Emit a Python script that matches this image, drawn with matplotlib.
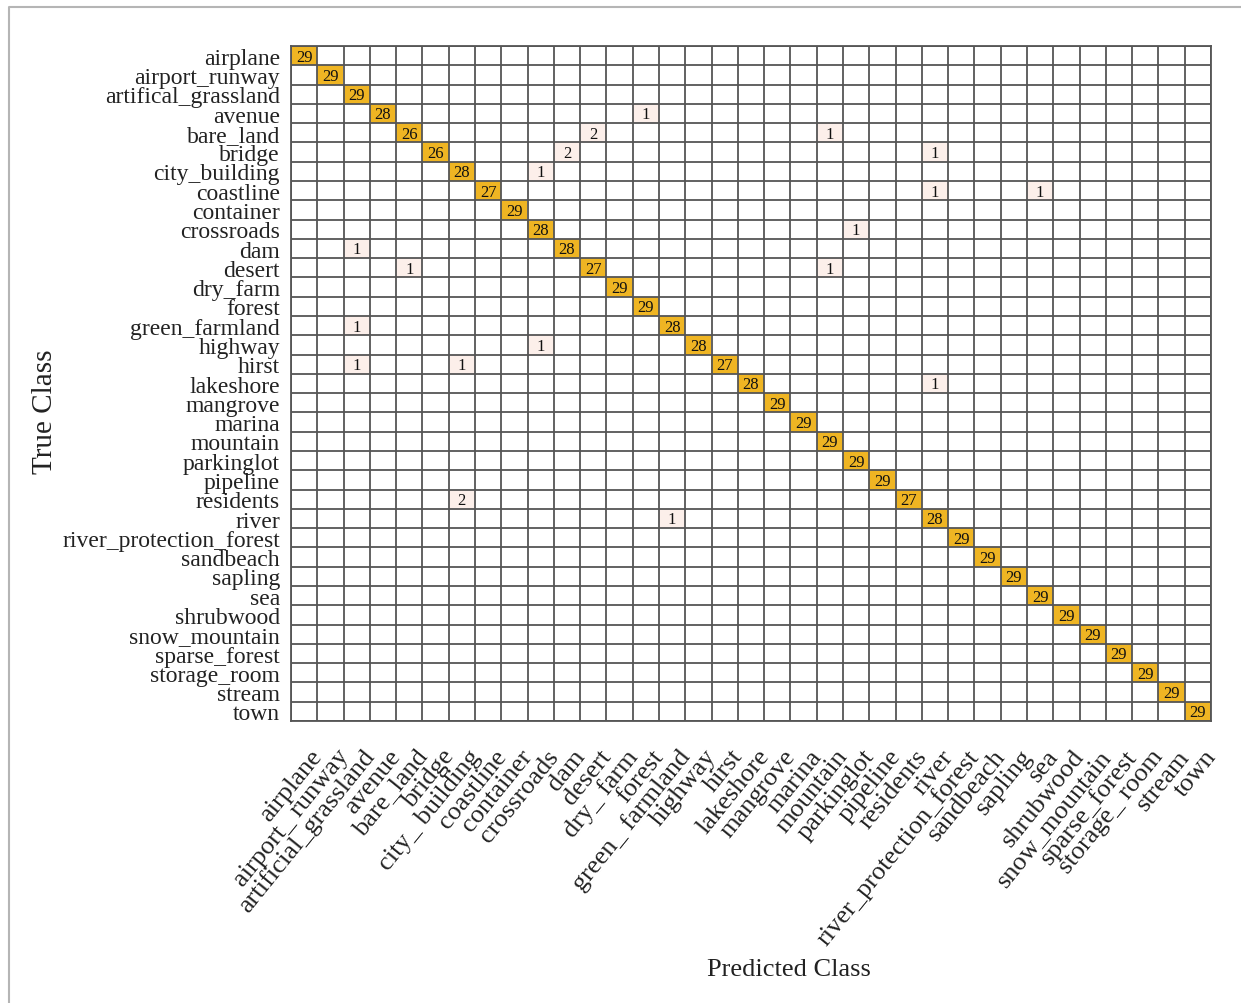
import numpy as np
import matplotlib
matplotlib.use("Agg")
import matplotlib.pyplot as plt
from matplotlib.lines import Line2D
from matplotlib.transforms import ScaledTranslation

# Class names (rows = true class, columns = predicted class)
classes = ["airplane", "airport_runway", "artifical_grassland", "avenue", "bare_land",
           "bridge", "city_building", "coastline", "container", "crossroads", "dam",
           "desert", "dry_farm", "forest", "green_farmland", "highway", "hirst",
           "lakeshore", "mangrove", "marina", "mountain", "parkinglot", "pipeline",
           "residents", "river", "river_protection_forest", "sandbeach", "sapling",
           "sea", "shrubwood", "snow_mountain", "sparse_forest", "storage_room",
           "stream", "town"]

pred_labels = ["airplane", "airport_ runway", "artificial_grassland", "avenue", "bare_land",
               "bridge", "city_ building", "coastline", "container", "crossroads", "dam",
               "desert", "dry_ farm", "forest", "green_ farmland", "highway", "hirst",
               "lakeshore", "mangrove", "marina", "mountain", "parkinglot", "pipeline",
               "residents", "river", "river_protection_forest", "sandbeach", "sapling",
               "sea", "shrubwood", "snow_mountain", "sparse_forest", "storage_ room",
               "stream", "town"]

# Correct predictions per class (diagonal)
diag_counts = [29, 29, 29, 28, 26, 26, 28, 27, 29, 28, 28, 27, 29, 29, 28, 28, 27,
               28, 29, 29, 29, 29, 29, 27, 28, 29, 29, 29, 29, 29, 29, 29, 29, 29, 29]

# Misclassifications: (true row, predicted column, count)
off_rows = [3, 4, 4, 5, 5, 6, 7, 7, 9, 10, 11, 11, 14, 15, 16, 16, 17, 23, 24]
off_cols = [13, 11, 20, 10, 24, 9, 24, 28, 21, 2, 4, 20, 2, 9, 2, 6, 24, 6, 14]
off_vals = [1, 2, 1, 2, 1, 1, 1, 1, 1, 1, 1, 1, 1, 1, 1, 1, 1, 2, 1]

n = len(classes)
cm = np.zeros((n, n), dtype=int)
cm[np.arange(n), np.arange(n)] = diag_counts
cm[off_rows, off_cols] = off_vals

plt.rcParams["font.family"] = ["Liberation Serif", "DejaVu Serif"]

W, H = 1241, 1004
fig = plt.figure(figsize=(W / 100, H / 100), dpi=100)
ax = fig.add_axes([291 / W, 1 - 722 / H, 920 / W, 675 / H])

# Cell colours: gold for correct, pale pink for errors, white for empty
gold = np.array([0.94, 0.71, 0.14])
pink = np.array([0.99, 0.94, 0.92])
rgb = np.ones((n, n, 3))
eye = np.eye(n, dtype=bool)
rgb[(cm > 0) & eye] = gold
rgb[(cm > 0) & ~eye] = pink
ax.imshow(rgb, extent=(-0.5, n - 0.5, n - 0.5, -0.5), aspect="auto",
          interpolation="nearest")

# Grid
edges = np.arange(n + 1) - 0.5
ax.vlines(edges, -0.5, n - 0.5, color="#555555", lw=1.3)
ax.hlines(edges, -0.5, n - 0.5, color="#555555", lw=1.3)
ax.set_xlim(-0.5, n - 0.5)
ax.set_ylim(n - 0.5, -0.5)
for s in ax.spines.values():
    s.set_color("#555555")
    s.set_linewidth(1.3)

# Cell counts
for i in range(n):
    for j in range(n):
        if cm[i, j] > 0:
            ax.text(j, i + 0.05, str(cm[i, j]), ha="center", va="center",
                    fontsize=12, color="#111111")

# Row labels
ax.set_yticks(np.arange(n))
ax.set_yticklabels(classes, fontsize=17, color="#222222")
ax.tick_params(axis="y", length=0, pad=8)
ax.set_xticks([])

# Column labels, rotated
off = ScaledTranslation(14 / 100, -31 / 100, fig.dpi_scale_trans)
for j, lab in enumerate(pred_labels):
    ax.text(j, n - 0.5, lab, rotation=51, rotation_mode="anchor",
            ha="right", va="center", fontsize=19, color="#222222",
            transform=ax.transData + off)

fig.text(789 / W, 1 - 970 / H, "Predicted Class", ha="center", va="center",
         fontsize=19, color="#222222")
fig.text(45 / W, 1 - 412 / H, "True Class", ha="center", va="center",
         rotation=90, fontsize=21, color="#222222")

# Page frame
fig.add_artist(Line2D([9 / W, 9 / W, 1], [0, 1 - 8 / H, 1 - 8 / H],
                      transform=fig.transFigure, color="#b5b5b5", lw=1.5))

fig.savefig("out.png", dpi=100)
